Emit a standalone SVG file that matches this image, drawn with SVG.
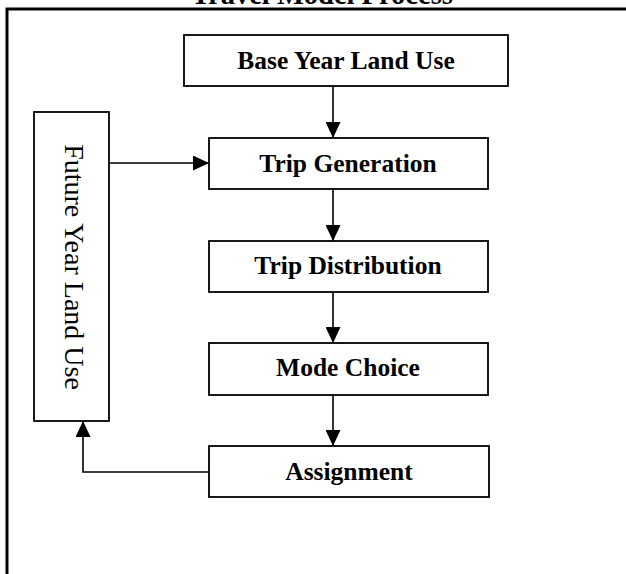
<svg xmlns="http://www.w3.org/2000/svg" width="626" height="574" viewBox="0 0 626 574">
<style>
.box{fill:#fff;stroke:#000;stroke-width:1.8}
.lbl{font-family:"Liberation Serif","Times New Roman",serif;font-weight:bold;font-size:25.5px;text-anchor:middle;fill:#000}
.title{font-family:"Liberation Serif","Times New Roman",serif;font-weight:bold;font-size:28.5px;text-anchor:middle;fill:#000}
.vert{font-family:"Liberation Serif","Times New Roman",serif;font-size:28px;text-anchor:middle;fill:#000}
.frame{fill:none;stroke:#000;stroke-width:3}
.conn{fill:none;stroke:#000;stroke-width:1.6}
</style>
<defs>
<marker id="ah" viewBox="0 0 16 15" refX="16" refY="7.5" markerWidth="16" markerHeight="15" markerUnits="userSpaceOnUse" orient="auto">
<path d="M0,0 L16,7.5 L0,15 Z" fill="#000"/>
</marker>
</defs>
<rect width="626" height="574" fill="#fff"/>
<text class="title" x="322" y="4">Travel Model Process</text>
<path class="frame" d="M7,574 V9 H626"/>
<g id="connectors">
<line class="conn" x1="333" y1="86" x2="333" y2="138" marker-end="url(#ah)"/>
<line class="conn" x1="333" y1="189" x2="333" y2="241" marker-end="url(#ah)"/>
<line class="conn" x1="333" y1="292" x2="333" y2="343" marker-end="url(#ah)"/>
<line class="conn" x1="333" y1="395" x2="333" y2="446" marker-end="url(#ah)"/>
<line class="conn" x1="109" y1="163" x2="209" y2="163" marker-end="url(#ah)"/>
<polyline class="conn" points="209,472 83,472 83,421" marker-end="url(#ah)"/>
</g>
<g id="base-year">
<rect class="box" x="184" y="35" width="324" height="51"/>
<text class="lbl" x="346" y="69">Base Year Land Use</text>
</g>
<g id="trip-generation">
<rect class="box" x="209" y="138" width="279" height="51"/>
<text class="lbl" x="348" y="172">Trip Generation</text>
</g>
<g id="trip-distribution">
<rect class="box" x="209" y="241" width="279" height="51"/>
<text class="lbl" x="348" y="274">Trip Distribution</text>
</g>
<g id="mode-choice">
<rect class="box" x="209" y="343" width="279" height="52"/>
<text class="lbl" x="348" y="376">Mode Choice</text>
</g>
<g id="assignment">
<rect class="box" x="209" y="446" width="280" height="51"/>
<text class="lbl" x="349" y="480">Assignment</text>
</g>
<g id="future-year">
<rect class="box" x="34" y="112" width="75" height="309"/>
<text class="vert" transform="translate(65,267) rotate(90)">Future Year Land Use</text>
</g>
</svg>
